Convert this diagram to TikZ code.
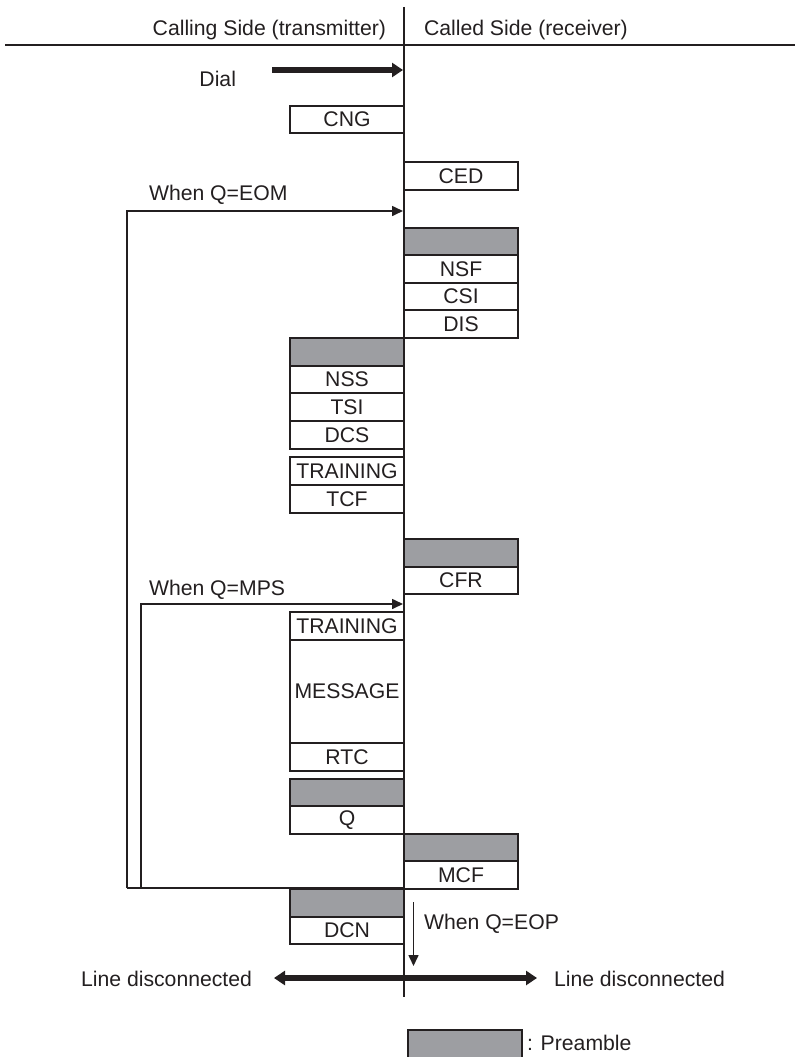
\documentclass[tikz,border=0pt]{standalone}
\usepackage{fontspec}
\setmainfont{Liberation Sans}
\usetikzlibrary{arrows.meta}
\definecolor{ink}{RGB}{35,31,32}
\definecolor{pregray}{RGB}{157,158,162}
\begin{document}
\begin{tikzpicture}[x=1pt,y=-1pt,
  every node/.style={font=\fontsize{21.2}{25}\selectfont, text=ink},
  msg/.style={draw=ink, line width=1.3pt, fill=white, minimum width=114pt,
    minimum height=27.5pt, inner sep=0pt, outer sep=0pt, anchor=north west},
  pre/.style={msg, fill=pregray},
  lbl/.style={inner sep=0pt, outer sep=0pt},
  rule/.style={draw=ink, line width=1.6pt},
  loopline/.style={draw=ink, line width=1.7pt},
  thinarrow/.style={draw=ink, line width=1.6pt, -{Triangle[length=11pt,width=10pt]}},
  thickarrow/.style={draw=ink, line width=5.5pt, -{Triangle[length=11pt,width=14pt]}},
  dblarrow/.style={draw=ink, line width=5.5pt, {Triangle[length=11pt,width=14pt]}-{Triangle[length=11pt,width=14pt]}}
]
\useasboundingbox (0,0) rectangle (795,1057);

% header
\coordinate (hl) at (5,45);
\coordinate (hr) at (795,45);
\coordinate (vt) at (404,7);
\coordinate (vb) at (404,997);
\draw[rule] (hl) -- (hr);
\node[lbl, anchor=base east] (calling) at (386,36) {Calling Side (transmitter)};
\node[lbl, anchor=base west] (called) at (424,36) {Called Side (receiver)};

% dial
\node[lbl, anchor=base east] (dial) at (236,86) {Dial};
\coordinate (dialS) at (272,70);
\coordinate (dialE) at (403,70);
\draw[thickarrow] (dialS) -- (dialE);

% boxes
\node[msg, minimum height=27pt] (cng) at (290,106) {CNG};
\node[msg, minimum height=28pt] (ced) at (404,162) {CED};

\node[pre, minimum height=27pt] (pr1) at (404,228) {};
\node[msg, minimum height=28pt] (nsf) at (404,255) {NSF};
\node[msg, minimum height=27pt] (csi) at (404,283) {CSI};
\node[msg, minimum height=28pt] (dis) at (404,310) {DIS};

\node[pre, minimum height=28pt] (pl1) at (290,338) {};
\node[msg, minimum height=27pt] (nss) at (290,366) {NSS};
\node[msg, minimum height=28pt] (tsi) at (290,393) {TSI};
\node[msg, minimum height=28pt] (dcs) at (290,421) {DCS};
\node[msg, minimum height=28pt] (tr1) at (290,457) {TRAINING};
\node[msg, minimum height=28pt] (tcf) at (290,485) {TCF};

\node[pre, minimum height=28pt] (pr2) at (404,539) {};
\node[msg, minimum height=27pt] (cfr) at (404,567) {CFR};

\node[msg, minimum height=28pt] (tr2) at (290,612) {TRAINING};
\node[msg, minimum height=103pt] (mes) at (290,640) {MESSAGE};
\node[msg, minimum height=28pt] (rtc) at (290,743) {RTC};
\node[pre, minimum height=27pt] (pl2) at (290,779) {};
\node[msg, minimum height=28pt] (q) at (290,806) {Q};

\node[pre, minimum height=27pt] (pr3) at (404,834) {};
\node[msg, minimum height=28pt] (mcf) at (404,861) {MCF};

\node[pre, minimum height=28pt] (pl3) at (290,889) {};
\node[msg, minimum height=27pt] (dcn) at (290,917) {DCN};

% loops
\coordinate (eomB) at (127,888);
\coordinate (eomT) at (127,211);
\coordinate (eomE) at (403,211);
\coordinate (mpsB) at (141,888);
\coordinate (mpsT) at (141,604);
\coordinate (mpsE) at (403,604);
\coordinate (botE) at (404,888);
\draw[loopline] (botE) -- (eomB);
\draw[thinarrow] (eomB) -- (eomT) -- (eomE);
\draw[thinarrow] (mpsB) -- (mpsT) -- (mpsE);
\node[lbl, anchor=base west] (eom) at (149,200) {When Q=EOM};
\node[lbl, anchor=base west] (mps) at (149,595) {When Q=MPS};

% center line
\draw[rule] (vt) -- (vb);

% EOP
\coordinate (eopS) at (413.5,902);
\coordinate (eopE) at (413.5,966);
\draw[thinarrow] (eopS) -- (eopE);
\node[lbl, anchor=base west] (eop) at (424,929) {When Q=EOP};

% line disconnected
\coordinate (ldL) at (274,978);
\coordinate (ldR) at (537,978);
\draw[dblarrow] (ldL) -- (ldR);
\node[lbl, anchor=base east] (ldl) at (252,986) {Line disconnected};
\node[lbl, anchor=base west] (ldr) at (554,986) {Line disconnected};

% legend
\node[pre, minimum height=28pt] (leg) at (408,1030) {};
\node[lbl, anchor=base west] (legt) at (527,1050) {: Preamble};
\end{tikzpicture}
\end{document}
